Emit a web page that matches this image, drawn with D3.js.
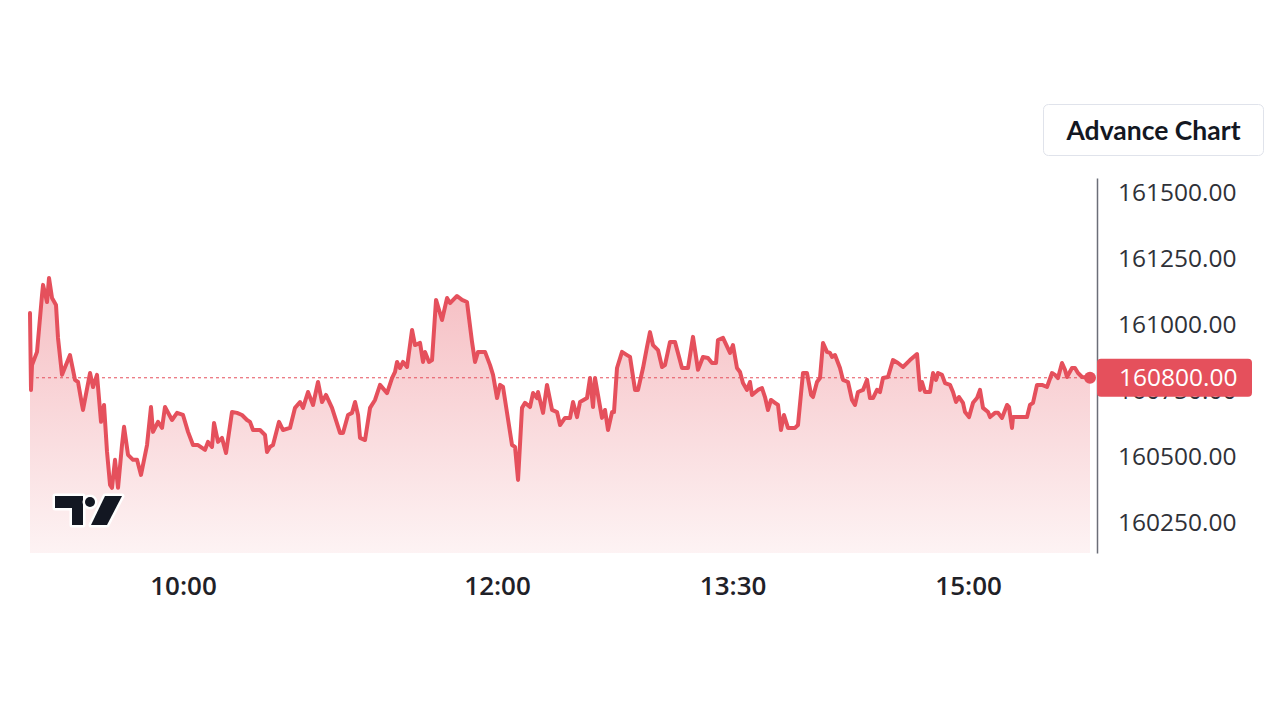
<!DOCTYPE html>
<html>
<head>
<meta charset="utf-8">
<script src="https://cdnjs.cloudflare.com/ajax/libs/d3/7.8.5/d3.min.js"></script>
<style>
    body { margin: 0; background: #fff; }
    svg { display: block; }
    .yaxis text { font-family: "Open Sans", "Noto Sans", sans-serif; font-size: 24.5px; fill: #2f3138; }
    .xaxis text { font-family: "Open Sans", "Noto Sans", sans-serif; font-size: 26px; font-weight: 600; fill: #1f2128; }
    .btn-label { font-family: Lato, "Open Sans", sans-serif; font-size: 26.5px; font-weight: 700; fill: #131722; }
    .tag-label { font-family: "Open Sans", "Noto Sans", sans-serif; font-size: 24.5px; fill: #fff; }
</style>
</head>
<body>
<div id="chart"></div>
<script>
//
// Data
//
var times = [
    "09:01:32","09:01:55","09:02:18","09:04:13","09:06:08","09:06:31","09:08:02","09:08:48","09:09:57","09:11:28",
    "09:12:14","09:13:46","09:16:49","09:18:44","09:19:53","09:21:25","09:21:47","09:24:28","09:25:37","09:27:08",
    "09:28:40","09:29:49","09:30:58","09:32:07","09:32:52","09:34:01","09:35:10","09:36:41","09:37:28","09:38:59",
    "09:40:54","09:42:26","09:43:57","09:46:15","09:47:46","09:48:32","09:50:27","09:51:59","09:53:07","09:55:48",
    "09:57:43","10:00:00","10:01:55","10:03:49","10:05:44","10:08:25","10:09:33","10:11:05","10:11:51","10:13:22",
    "10:14:54","10:16:26","10:18:43","10:20:38","10:22:32","10:24:27","10:25:36","10:26:45","10:29:25","10:31:20",
    "10:32:06","10:33:14","10:34:23","10:36:41","10:38:13","10:40:53","10:42:48","10:44:43","10:45:52","10:47:46",
    "10:49:41","10:51:35","10:53:07","10:54:38","10:56:56","11:00:00","11:01:08","11:03:03","11:04:35","11:05:44",
    "11:06:53","11:07:38","11:09:33","11:11:28","11:13:22","11:15:17","11:17:58","11:19:52","11:21:01","11:21:47",
    "11:22:55","11:24:04","11:25:36","11:27:31","11:28:39","11:30:34","11:31:43","11:32:28","11:34:00","11:35:09",
    "11:36:41","11:38:58","11:40:53","11:42:02","11:44:42","11:46:37","11:48:31","11:50:26","11:51:35","11:52:44",
    "11:55:24","11:57:19","11:58:28","12:00:00","12:01:08","12:02:17","12:05:43","12:06:52","12:08:01","12:09:32",
    "12:10:41","12:12:35","12:13:44","12:15:16","12:15:39","12:17:34","12:19:05","12:21:00","12:22:55","12:24:04",
    "12:25:58","12:27:53","12:29:01","12:30:33","12:31:42","12:34:22","12:35:31","12:36:40","12:37:26","12:40:06",
    "12:41:15","12:42:24","12:43:56","12:44:41","12:45:50","12:47:45","12:49:40","12:50:48","12:52:43","12:53:52",
    "12:55:46","12:57:18","12:58:26","12:59:35","13:01:30","13:03:02","13:04:10","13:06:05","13:07:59","13:10:40",
    "13:12:58","13:14:52","13:16:47","13:18:41","13:20:36","13:22:08","13:23:40","13:24:25","13:26:20","13:29:01",
    "13:30:09","13:31:41","13:32:50","13:33:58","13:35:30","13:36:39","13:37:25","13:39:42","13:41:14","13:42:23",
    "13:43:31","13:44:40","13:46:12","13:47:21","13:48:29","13:49:38","13:51:10","13:53:50","13:54:59","13:56:54",
    "13:58:26","14:00:00","14:00:43","14:02:15","14:03:24","14:04:33","14:06:04","14:07:13","14:07:59","14:09:08",
    "14:11:02","14:12:11","14:14:06","14:15:38","14:16:46","14:17:55","14:19:50","14:21:22","14:22:30","14:23:39",
    "14:25:11","14:26:19","14:27:28","14:29:23","14:31:17","14:33:12","14:35:07","14:37:47","14:40:28","14:41:37",
    "14:42:22","14:43:31","14:45:26","14:46:35","14:47:43","14:48:29","14:50:01","14:51:10","14:53:04","14:54:13",
    "14:55:22","14:56:31","14:58:02","14:58:49","15:00:20","15:01:52","15:03:23","15:04:32","15:05:41","15:07:36",
    "15:08:22","15:10:16","15:11:25","15:12:57","15:14:52","15:15:37","15:16:46","15:17:09","15:19:04","15:22:30",
    "15:23:38","15:24:47","15:26:19","15:28:14","15:30:08","15:32:03","15:33:12","15:34:20","15:35:52","15:37:01",
    "15:37:47","15:39:41","15:40:50","15:41:59","15:43:31","15:46:34"
];

var prices = [
    161045,160754,160848,160898,161114,161152,161087,161178,161102,161076,
    160951,160811,160886,160792,160784,160697,160678,160818,160765,160811,
    160633,160697,160519,160394,160383,160489,160383,160545,160614,160508,
    160489,160489,160432,160545,160689,160595,160633,160610,160689,160640,
    160667,160659,160595,160545,160545,160527,160557,160538,160629,160557,
    160572,160515,160670,160667,160659,160640,160633,160602,160602,160583,
    160519,160538,160545,160633,160602,160610,160686,160708,160686,160746,
    160697,160784,160708,160735,160686,160591,160591,160659,160667,160708,
    160659,160572,160564,160686,160716,160773,160742,160799,160822,160860,
    160837,160860,160841,160981,160924,160932,160860,160898,160860,160867,
    161095,161019,161102,161083,161110,161095,161087,160936,160860,160898,
    160898,160848,160811,160723,160773,160765,160545,160538,160413,160686,
    160705,160689,160742,160723,160746,160667,160773,160678,160670,160621,
    160648,160648,160708,160651,160708,160723,160799,160689,160799,160648,
    160678,160602,160670,160670,160837,160898,160886,160879,160754,160754,
    160837,160917,160973,160924,160905,160841,160848,160936,160936,160837,
    160837,160955,160830,160879,160875,160856,160856,160943,160951,160894,
    160924,160837,160822,160780,160754,160784,160735,160754,160761,160727,
    160678,160716,160705,160697,160602,160659,160610,160610,160621,160818,
    160818,160735,160727,160784,160799,160932,160898,160894,160879,160886,
    160837,160792,160784,160716,160697,160746,160754,160792,160723,160723,
    160754,160746,160799,160803,160867,160856,160841,160867,160890,160754,
    160784,160746,160746,160818,160792,160818,160811,160780,160773,160746,
    160708,160727,160705,160670,160651,160705,160723,160754,160686,160670,
    160651,160667,160667,160648,160697,160689,160610,160651,160651,160651,
    160697,160705,160773,160773,160765,160818,160811,160799,160856,160830,
    160803,160837,160837,160818,160803,160800
];

var yTicks = [160250, 160500, 160750, 161000, 161250, 161500];
var xTicks = ["10:00:00", "12:00:00", "13:30:00", "15:00:00"];
var lastPrice = 160800;
var yDomain = [160136, 161557];

//
// Layout
//
var width = 1280,
    height = 720,
    plot = { left: 30, right: 1090, top: 178, bottom: 553 },
    axisX = 1097,
    red = "#e5505c";

var parseTime = d3.timeParse("%H:%M:%S");

var data = times.map(function(t, i) {
    return { t: parseTime(t), v: prices[i] };
});

var x = d3.scaleTime()
    .domain(d3.extent(data, function(d) { return d.t; }))
    .range([plot.left, plot.right]);

var y = d3.scaleLinear()
    .domain(yDomain)
    .range([plot.bottom, plot.top]);

var svg = d3.select("#chart").append("svg")
    .attr("width", width)
    .attr("height", height);

// gradient for the area
var grad = svg.append("defs").append("linearGradient")
    .attr("id", "areaFill")
    .attr("gradientUnits", "userSpaceOnUse")
    .attr("x1", 0).attr("y1", y(161200))
    .attr("x2", 0).attr("y2", plot.bottom);
grad.append("stop").attr("offset", "0%").attr("stop-color", red).attr("stop-opacity", 0.38);
grad.append("stop").attr("offset", "100%").attr("stop-color", red).attr("stop-opacity", 0.07);

var area = d3.area()
    .x(function(d) { return x(d.t); })
    .y0(plot.bottom)
    .y1(function(d) { return y(d.v); });

var line = d3.line()
    .x(function(d) { return x(d.t); })
    .y(function(d) { return y(d.v); });

svg.append("path")
    .datum(data)
    .attr("d", area)
    .attr("fill", "url(#areaFill)");

// last price dashed line
svg.append("line")
    .attr("x1", plot.left)
    .attr("x2", plot.right)
    .attr("y1", y(lastPrice))
    .attr("y2", y(lastPrice))
    .attr("stroke", red)
    .attr("stroke-width", 1)
    .attr("stroke-dasharray", "3,3");

svg.append("path")
    .datum(data)
    .attr("d", line)
    .attr("fill", "none")
    .attr("stroke", red)
    .attr("stroke-width", 4)
    .attr("stroke-linejoin", "round")
    .attr("stroke-linecap", "round");

// end dot
var last = data[data.length - 1];
svg.append("circle")
    .attr("cx", x(last.t))
    .attr("cy", y(last.v))
    .attr("r", 6)
    .attr("fill", red);

//
// axes
//
var yAxis = svg.append("g")
    .attr("class", "yaxis")
    .attr("transform", "translate(" + axisX + ",0)")
    .call(d3.axisRight(y)
        .tickValues(yTicks)
        .tickFormat(d3.format(".2f"))
        .tickSize(0)
        .tickPadding(21));
yAxis.select(".domain").attr("stroke", "#6b6e78").attr("stroke-width", 1.5);

var xAxis = svg.append("g")
    .attr("class", "xaxis")
    .attr("transform", "translate(0," + plot.bottom + ")")
    .call(d3.axisBottom(x)
        .tickValues(xTicks.map(parseTime))
        .tickFormat(d3.timeFormat("%H:%M"))
        .tickSize(0)
        .tickPadding(24));
xAxis.select(".domain").remove();

// price tag
var tag = svg.append("g")
    .attr("transform", "translate(" + axisX + "," + y(lastPrice) + ")");
tag.append("rect")
    .attr("x", 0)
    .attr("y", -19)
    .attr("width", 155)
    .attr("height", 38)
    .attr("rx", 4)
    .attr("fill", red);
tag.append("text")
    .attr("class", "tag-label")
    .attr("x", 22)
    .attr("dy", "0.35em")
    .text(d3.format(".2f")(lastPrice));

// Advance Chart button
var btn = svg.append("g").attr("transform", "translate(1043.5,104.5)");
btn.append("rect")
    .attr("width", 220)
    .attr("height", 51)
    .attr("rx", 5)
    .attr("fill", "#fff")
    .attr("stroke", "#e0e3eb");
btn.append("text")
    .attr("class", "btn-label")
    .attr("x", 110)
    .attr("y", 26)
    .attr("dy", "0.35em")
    .attr("text-anchor", "middle")
    .text("Advance Chart");

// TradingView logo
var logo = svg.append("g")
    .attr("transform", "translate(55,496)")
    .attr("fill", "#131722")
    .attr("stroke", "#fff")
    .attr("stroke-width", 5)
    .attr("stroke-linejoin", "round")
    .style("paint-order", "stroke");
logo.append("path").attr("d", "M0,0H28V29H17V12H0Z");
logo.append("circle").attr("cx", 35).attr("cy", 6).attr("r", 5);
logo.append("path").attr("d", "M50,0H67L52,29H36Z");
</script>
</body>
</html>
